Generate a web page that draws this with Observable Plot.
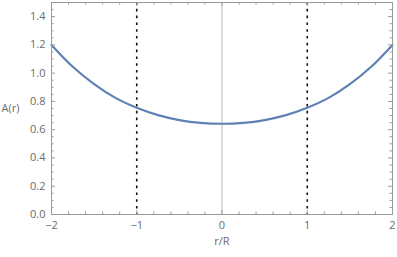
<!DOCTYPE html>
<html>
<head>
<meta charset="utf-8">
<script src="https://cdn.jsdelivr.net/npm/d3@7"></script>
<script src="https://cdn.jsdelivr.net/npm/@observablehq/plot@0.6"></script>
<style>
  html, body { margin: 0; padding: 0; background: #fff; }
  #chart svg { display: block; }
</style>
</head>
<body>
<div id="chart"></div>
<script>
// r/R sample positions and A(r) values
const rValues = [-2, -1.75, -1.5, -1.25, -1, -0.75, -0.5, -0.25, 0, 0.25, 0.5, 0.75, 1, 1.25, 1.5, 1.75, 2];
const aValues = [1.2, 1.045, 0.922, 0.825, 0.755, 0.703, 0.668, 0.648, 0.642, 0.648, 0.668, 0.703, 0.755, 0.825, 0.922, 1.045, 1.2];
// vertical dashed markers
const dashedX = [-1, 1];
// tick labels / tick positions
const xTickLabels = [-2, -1, 0, 1, 2];
const xMinorTicks = [-1.8, -1.6, -1.4, -1.2, -0.8, -0.6, -0.4, -0.2, 0.2, 0.4, 0.6, 0.8, 1.2, 1.4, 1.6, 1.8];
const yTickLabels = [0, 0.2, 0.4, 0.6, 0.8, 1.0, 1.2, 1.4];
const yMinorTicks = [0.05, 0.1, 0.15, 0.25, 0.3, 0.35, 0.45, 0.5, 0.55, 0.65, 0.7, 0.75, 0.85, 0.9, 0.95, 1.05, 1.1, 1.15, 1.25, 1.3, 1.35, 1.45];

const curve = rValues.map((r, i) => ({r, a: aValues[i]}));

const W = 397, H = 257;
const mL = 51, mR = 5, mT = 2, mB = 43;
const fw = W - mL - mR, fh = H - mT - mB;
const frameCol = "#9a9a9a";
const textCol = "#6b6b6b";
const major = 4, minor = 2.5;

const plot = Plot.plot({
  width: W,
  height: H,
  marginLeft: mL,
  marginRight: mR,
  marginTop: mT,
  marginBottom: mB,
  style: {fontFamily: "'Open Sans', 'DejaVu Sans', sans-serif", fontSize: "11px", color: textCol, background: "white"},
  x: {domain: [-2, 2]},
  y: {domain: [0, 1.5]},
  marks: [
    Plot.ruleX([0], {stroke: "#bdbdbd", strokeWidth: 1}),
    Plot.ruleX(dashedX, {stroke: "#111", strokeWidth: 1.6, strokeDasharray: "2.6,4.2"}),
    Plot.line(curve, {x: "r", y: "a", stroke: "#5E81B5", strokeWidth: 2.2, curve: "catmull-rom"}),
    // inward ticks, bottom & top
    Plot.tickX(xTickLabels, {x: d => d, stroke: frameCol, insetTop: fh - major}),
    Plot.tickX(xTickLabels, {x: d => d, stroke: frameCol, insetBottom: fh - major}),
    Plot.tickX(xMinorTicks, {x: d => d, stroke: frameCol, insetTop: fh - minor}),
    Plot.tickX(xMinorTicks, {x: d => d, stroke: frameCol, insetBottom: fh - minor}),
    // inward ticks, left & right
    Plot.tickY(yTickLabels, {y: d => d, stroke: frameCol, insetRight: fw - major}),
    Plot.tickY(yTickLabels, {y: d => d, stroke: frameCol, insetLeft: fw - major}),
    Plot.tickY(yMinorTicks, {y: d => d, stroke: frameCol, insetRight: fw - minor}),
    Plot.tickY(yMinorTicks, {y: d => d, stroke: frameCol, insetLeft: fw - minor}),
    Plot.frame({stroke: frameCol, strokeWidth: 1}),
    Plot.axisX(xTickLabels, {tickSize: 0, tickPadding: 7, label: null, fill: textCol, fontSize: 11}),
    Plot.axisY(yTickLabels, {tickSize: 0, tickPadding: 6, label: null, fill: textCol, fontSize: 11, tickFormat: d3.format(".1f")}),
    Plot.text(["A(r)"], {frameAnchor: "left", dx: -50, textAnchor: "start", fill: textCol, fontSize: 11}),
    Plot.text(["r/R"], {frameAnchor: "bottom", dy: 30, fill: textCol, fontSize: 11})
  ]
});
document.getElementById("chart").appendChild(plot);
</script>
</body>
</html>
